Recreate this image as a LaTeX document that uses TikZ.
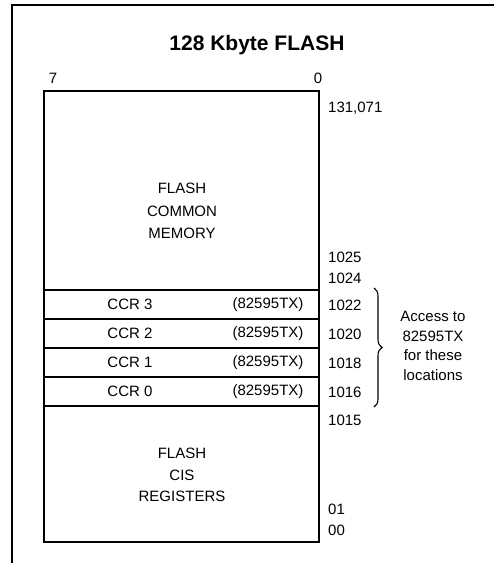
\documentclass[tikz,border=0pt]{standalone}
\usepackage{fontspec}
\setmainfont{Liberation Sans}
\usetikzlibrary{positioning,decorations.pathreplacing}

\begin{document}
\begin{tikzpicture}[x=1pt,y=-1pt,every node/.style={font=\fontsize{15}{17}\selectfont,inner sep=0pt},
  cell/.style={draw,line width=1.5pt,minimum width=275pt},
  addr/.style={anchor=west}]

\useasboundingbox (0,0) rectangle (494,563);

% Frame
\draw[line width=2pt] (12,563) -- (12,5) -- (494,5);

% Title row
\node[font=\fontsize{21}{24}\selectfont\bfseries] (title) at (257,45) {128 Kbyte FLASH};
\node (bit7) at (53,78) {7};
\node (bit0) at (318,78) {0};

% Memory blocks
\node[cell,minimum height=199pt] (common) at (181.5,190.5) {};
\node[align=center,font=\fontsize{15}{22.5}\selectfont] (commontxt) at (182,211) {FLASH\\COMMON\\MEMORY};

\node[cell,minimum height=29pt] (ccr3) at (181.5,304.5) {};
\node[cell,minimum height=29pt] (ccr2) at (181.5,333.5) {};
\node[cell,minimum height=29pt] (ccr1) at (181.5,362.5) {};
\node[cell,minimum height=29pt] (ccr0) at (181.5,391.5) {};

\node (ccr3a) at (130,304.5) {CCR 3};
\node (ccr3b) at (268,304.5) {(82595TX)};
\node (ccr2a) at (130,333.5) {CCR 2};
\node (ccr2b) at (268,333.5) {(82595TX)};
\node (ccr1a) at (130,362.5) {CCR 1};
\node (ccr1b) at (268,362.5) {(82595TX)};
\node (ccr0a) at (130,391.5) {CCR 0};
\node (ccr0b) at (268,391.5) {(82595TX)};

\node[cell,minimum height=136pt] (cis) at (181.5,474) {};
\node[align=center,font=\fontsize{15}{21.5}\selectfont] (cistxt) at (182,475) {FLASH\\CIS\\REGISTERS};

% Addresses
\node[addr] (a131071) at (328,108) {131,071};
\node[addr] (a1025) at (328,257) {1025};
\node[addr] (a1024) at (328,278) {1024};
\node[addr] (a1022) at (328,305) {1022};
\node[addr] (a1020) at (328,334) {1020};
\node[addr] (a1018) at (328,363) {1018};
\node[addr] (a1016) at (328,392) {1016};
\node[addr] (a1015) at (328,420) {1015};
\node[addr] (a01) at (328,509) {01};
\node[addr] (a00) at (328,530) {00};

% Brace
\coordinate (btop) at (374,288);
\coordinate (bbot) at (374,407);
\draw[line width=1.1pt,decorate,decoration={brace,amplitude=8pt}] (btop) -- (bbot);
\node[align=center,font=\fontsize{15}{19.7}\selectfont] (access) at (433,346) {Access to\\82595TX\\for these\\locations};

\end{tikzpicture}
\end{document}
